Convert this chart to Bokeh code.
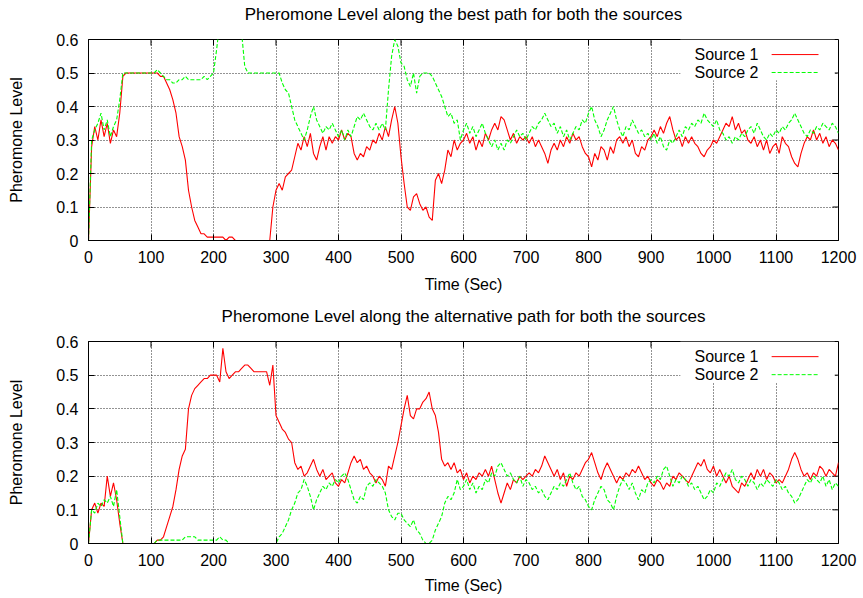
from bokeh.plotting import figure
from bokeh.layouts import column
from bokeh.models import FixedTicker, Label, Arrow, BoxAnnotation, Range1d, LinearAxis
from bokeh.embed import file_html
from bokeh.resources import INLINE

# ---------------- data ----------------
time_sec = list(range(0, 1201, 5))

best_src1 = [
    0.00, 0.28, 0.34, 0.30, 0.36, 0.31, 0.35, 0.29, 0.33, 0.31, 0.38, 0.49, 0.50, 0.50, 0.50, 0.50, 0.50, 0.50, 0.50, 0.50,
    0.50, 0.50, 0.50, 0.49, 0.49, 0.47, 0.45, 0.42, 0.38, 0.31, 0.28, 0.24, 0.15, 0.10, 0.06, 0.04, 0.02, 0.02, 0.01, 0.01,
    0.01, 0.01, 0.01, 0.01, 0.00, 0.01, 0.01, 0.00, 0.00, 0.00, 0.00, 0.00, 0.00, 0.00, 0.00, 0.00, 0.00, 0.00, 0.00, 0.10,
    0.15, 0.17, 0.15, 0.19, 0.20, 0.21, 0.25, 0.29, 0.27, 0.31, 0.28, 0.32, 0.26, 0.24, 0.28, 0.31, 0.27, 0.31, 0.29, 0.31,
    0.30, 0.33, 0.30, 0.32, 0.31, 0.26, 0.24, 0.26, 0.25, 0.28, 0.27, 0.30, 0.29, 0.32, 0.30, 0.34, 0.31, 0.36, 0.40, 0.35,
    0.25, 0.17, 0.10, 0.09, 0.13, 0.14, 0.11, 0.09, 0.10, 0.07, 0.06, 0.18, 0.20, 0.17, 0.21, 0.27, 0.25, 0.30, 0.27, 0.29,
    0.30, 0.32, 0.29, 0.31, 0.27, 0.30, 0.28, 0.32, 0.30, 0.33, 0.35, 0.33, 0.37, 0.36, 0.33, 0.30, 0.32, 0.29, 0.31, 0.30,
    0.31, 0.29, 0.31, 0.28, 0.30, 0.28, 0.26, 0.23, 0.27, 0.29, 0.27, 0.30, 0.28, 0.31, 0.29, 0.32, 0.30, 0.31, 0.28, 0.26,
    0.25, 0.22, 0.26, 0.24, 0.28, 0.27, 0.24, 0.28, 0.26, 0.30, 0.31, 0.29, 0.31, 0.28, 0.30, 0.26, 0.25, 0.28, 0.27, 0.30,
    0.31, 0.33, 0.31, 0.34, 0.32, 0.35, 0.37, 0.33, 0.30, 0.31, 0.28, 0.31, 0.29, 0.31, 0.29, 0.28, 0.26, 0.25, 0.27, 0.28,
    0.30, 0.29, 0.31, 0.33, 0.35, 0.34, 0.37, 0.33, 0.35, 0.32, 0.33, 0.30, 0.29, 0.31, 0.28, 0.30, 0.27, 0.30, 0.26, 0.28,
    0.29, 0.26, 0.31, 0.29, 0.28, 0.25, 0.23, 0.22, 0.26, 0.29, 0.31, 0.30, 0.33, 0.30, 0.32, 0.29, 0.31, 0.28, 0.30, 0.29,
    0.27,
]

best_src2 = [
    0.00, 0.30, 0.33, 0.35, 0.38, 0.33, 0.36, 0.31, 0.34, 0.36, 0.42, 0.50, 0.50, 0.50, 0.50, 0.50, 0.50, 0.50, 0.50, 0.50,
    0.50, 0.50, 0.51, 0.50, 0.49, 0.48, 0.48, 0.47, 0.47, 0.48, 0.48, 0.49, 0.48, 0.48, 0.48, 0.48, 0.48, 0.49, 0.48, 0.49,
    0.50, 0.57, 0.65, 0.65, 0.65, 0.65, 0.65, 0.65, 0.65, 0.62, 0.52, 0.50, 0.50, 0.50, 0.50, 0.50, 0.50, 0.50, 0.50, 0.50,
    0.50, 0.50, 0.47, 0.45, 0.44, 0.40, 0.36, 0.34, 0.32, 0.30, 0.33, 0.37, 0.40, 0.36, 0.34, 0.32, 0.34, 0.33, 0.35, 0.33,
    0.31, 0.33, 0.30, 0.33, 0.31, 0.34, 0.37, 0.36, 0.38, 0.36, 0.34, 0.33, 0.35, 0.33, 0.35, 0.33, 0.45, 0.55, 0.60, 0.58,
    0.53, 0.52, 0.48, 0.46, 0.50, 0.44, 0.49, 0.50, 0.50, 0.50, 0.49, 0.47, 0.45, 0.43, 0.40, 0.37, 0.38, 0.35, 0.36, 0.30,
    0.33, 0.35, 0.32, 0.34, 0.31, 0.33, 0.35, 0.32, 0.30, 0.28, 0.30, 0.27, 0.29, 0.27, 0.30, 0.29, 0.31, 0.33, 0.31, 0.32,
    0.30, 0.32, 0.34, 0.33, 0.35, 0.36, 0.38, 0.36, 0.34, 0.35, 0.32, 0.34, 0.31, 0.33, 0.30, 0.32, 0.34, 0.33, 0.36, 0.35,
    0.38, 0.40, 0.36, 0.34, 0.31, 0.33, 0.36, 0.38, 0.40, 0.36, 0.33, 0.31, 0.34, 0.33, 0.36, 0.34, 0.32, 0.33, 0.31, 0.32,
    0.30, 0.32, 0.29, 0.31, 0.28, 0.27, 0.30, 0.29, 0.31, 0.33, 0.31, 0.34, 0.33, 0.35, 0.34, 0.36, 0.35, 0.38, 0.36, 0.35,
    0.34, 0.36, 0.33, 0.32, 0.30, 0.31, 0.29, 0.31, 0.30, 0.32, 0.31, 0.33, 0.34, 0.32, 0.35, 0.33, 0.31, 0.30, 0.32, 0.31,
    0.33, 0.32, 0.34, 0.33, 0.35, 0.36, 0.38, 0.36, 0.34, 0.32, 0.31, 0.33, 0.32, 0.34, 0.33, 0.35, 0.34, 0.33, 0.35, 0.34,
    0.32,
]

alt_src1 = [
    0.00, 0.10, 0.12, 0.09, 0.12, 0.11, 0.20, 0.14, 0.18, 0.13, 0.06, 0.00, 0.00, 0.00, 0.00, 0.00, 0.00, 0.00, 0.00, 0.00,
    0.00, 0.00, 0.01, 0.01, 0.02, 0.05, 0.08, 0.11, 0.16, 0.22, 0.26, 0.28, 0.40, 0.44, 0.46, 0.47, 0.48, 0.49, 0.49, 0.50,
    0.50, 0.50, 0.48, 0.58, 0.51, 0.49, 0.50, 0.51, 0.51, 0.52, 0.53, 0.53, 0.52, 0.51, 0.51, 0.51, 0.51, 0.51, 0.47, 0.53,
    0.38, 0.36, 0.34, 0.33, 0.31, 0.30, 0.24, 0.22, 0.23, 0.20, 0.21, 0.23, 0.25, 0.22, 0.20, 0.22, 0.19, 0.20, 0.21, 0.18,
    0.17, 0.19, 0.18, 0.21, 0.24, 0.26, 0.24, 0.25, 0.22, 0.23, 0.21, 0.20, 0.18, 0.20, 0.19, 0.17, 0.23, 0.22, 0.26, 0.30,
    0.35, 0.40, 0.44, 0.38, 0.37, 0.40, 0.40, 0.42, 0.43, 0.45, 0.40, 0.38, 0.33, 0.25, 0.23, 0.24, 0.22, 0.24, 0.21, 0.22,
    0.19, 0.21, 0.18, 0.20, 0.19, 0.21, 0.20, 0.22, 0.20, 0.23, 0.19, 0.15, 0.12, 0.15, 0.18, 0.16, 0.19, 0.18, 0.20, 0.19,
    0.20, 0.21, 0.20, 0.22, 0.21, 0.23, 0.26, 0.24, 0.22, 0.20, 0.22, 0.19, 0.21, 0.17, 0.20, 0.19, 0.21, 0.20, 0.22, 0.24,
    0.25, 0.27, 0.24, 0.21, 0.19, 0.22, 0.24, 0.22, 0.20, 0.18, 0.20, 0.19, 0.21, 0.20, 0.22, 0.21, 0.23, 0.21, 0.19, 0.20,
    0.18, 0.17, 0.19, 0.18, 0.16, 0.18, 0.17, 0.20, 0.19, 0.21, 0.20, 0.19, 0.18, 0.20, 0.22, 0.24, 0.23, 0.25, 0.22, 0.21,
    0.23, 0.20, 0.22, 0.20, 0.18, 0.20, 0.17, 0.16, 0.15, 0.18, 0.17, 0.19, 0.21, 0.19, 0.22, 0.20, 0.22, 0.19, 0.21, 0.20,
    0.18, 0.19, 0.18, 0.20, 0.22, 0.25, 0.27, 0.25, 0.22, 0.20, 0.21, 0.19, 0.21, 0.20, 0.23, 0.22, 0.20, 0.22, 0.21, 0.20,
    0.24,
]

alt_src2 = [
    0.00, 0.10, 0.09, 0.12, 0.11, 0.13, 0.12, 0.14, 0.11, 0.16, 0.08, 0.00, 0.00, 0.00, 0.00, 0.00, 0.00, 0.00, 0.00, 0.00,
    0.00, 0.00, 0.01, 0.01, 0.01, 0.01, 0.01, 0.01, 0.01, 0.01, 0.01, 0.02, 0.02, 0.02, 0.02, 0.01, 0.01, 0.01, 0.01, 0.01,
    0.01, 0.01, 0.02, 0.01, 0.01, 0.00, 0.00, 0.00, 0.00, 0.00, 0.00, 0.00, 0.00, 0.00, 0.00, 0.00, 0.00, 0.00, 0.00, 0.00,
    0.00, 0.02, 0.03, 0.05, 0.07, 0.10, 0.12, 0.15, 0.16, 0.19, 0.17, 0.14, 0.10, 0.13, 0.15, 0.17, 0.16, 0.18, 0.17, 0.19,
    0.18, 0.20, 0.21, 0.19, 0.16, 0.13, 0.12, 0.14, 0.13, 0.17, 0.18, 0.17, 0.19, 0.18, 0.17, 0.15, 0.10, 0.08, 0.07, 0.09,
    0.09, 0.07, 0.06, 0.05, 0.07, 0.04, 0.03, 0.01, 0.00, 0.00, 0.01, 0.04, 0.06, 0.08, 0.12, 0.14, 0.13, 0.15, 0.19, 0.16,
    0.17, 0.19, 0.16, 0.18, 0.15, 0.17, 0.16, 0.19, 0.18, 0.21, 0.20, 0.23, 0.24, 0.22, 0.20, 0.21, 0.19, 0.18, 0.20, 0.17,
    0.19, 0.18, 0.16, 0.17, 0.15, 0.16, 0.14, 0.13, 0.15, 0.17, 0.16, 0.18, 0.17, 0.19, 0.21, 0.18, 0.16, 0.17, 0.14, 0.13,
    0.11, 0.10, 0.13, 0.15, 0.17, 0.16, 0.13, 0.12, 0.10, 0.14, 0.17, 0.19, 0.18, 0.16, 0.18, 0.15, 0.13, 0.16, 0.15, 0.18,
    0.19, 0.18, 0.20, 0.19, 0.22, 0.23, 0.20, 0.17, 0.19, 0.18, 0.20, 0.19, 0.17, 0.18, 0.16, 0.17, 0.15, 0.13, 0.14, 0.16,
    0.15, 0.18, 0.17, 0.19, 0.21, 0.20, 0.22, 0.19, 0.18, 0.20, 0.19, 0.17, 0.19, 0.18, 0.16, 0.18, 0.17, 0.19, 0.18, 0.17,
    0.19, 0.18, 0.16, 0.17, 0.15, 0.14, 0.12, 0.13, 0.15, 0.17, 0.19, 0.18, 0.20, 0.19, 0.18, 0.20, 0.17, 0.19, 0.16, 0.18,
    0.17,
]

x_ticks = [0, 100, 200, 300, 400, 500, 600, 700, 800, 900, 1000, 1100, 1200]
y_ticks = [0, 0.1, 0.2, 0.3, 0.4, 0.5, 0.6]
y_tick_labels = ["0", "0.1", "0.2", "0.3", "0.4", "0.5", "0.6"]
panel_titles = [
    "Pheromone Level along the best path for both the sources",
    "Pheromone Level along the alternative path for both the sources",
]
series_names = ["Source 1", "Source 2"]
x_label = "Time (Sec)"
y_label = "Pheromone Level"

FONT = "Liberation Sans"
FS = "16px"
RED = "#ff0000"
GREEN = "#00ff00"
X_MIN, X_MAX, Y_MIN, Y_MAX = 0, 1200, 0, 0.6


def make_panel(title, s1, s2, border_top, border_bottom, frame_h, xlabel_standoff):
    p = figure(width=863, height=299, output_backend="svg", toolbar_location=None,
               x_range=Range1d(X_MIN, X_MAX), y_range=Range1d(Y_MIN, Y_MAX),
               min_border_left=88, min_border_right=25,
               min_border_top=border_top, min_border_bottom=border_bottom,
               background_fill_color="white", border_fill_color="white")

    xt = FixedTicker(ticks=x_ticks)
    yt = FixedTicker(ticks=y_ticks)
    p.xaxis.ticker = xt
    p.yaxis.ticker = yt
    p.xgrid.ticker = xt
    p.ygrid.ticker = yt
    p.yaxis.major_label_overrides = dict(zip(y_ticks, y_tick_labels))

    for ax in (p.xaxis, p.yaxis):
        ax.major_label_text_font = FONT
        ax.major_label_text_font_size = FS
        ax.major_label_text_color = "black"
        ax.axis_label_text_font = FONT
        ax.axis_label_text_font_size = FS
        ax.axis_label_text_font_style = "normal"
        ax.axis_label_text_color = "black"
        ax.axis_line_color = "black"
        ax.major_tick_line_color = "black"
        ax.major_tick_in = 6
        ax.major_tick_out = 0
        ax.minor_tick_line_color = None
    p.xaxis.axis_label = x_label
    p.yaxis.axis_label = y_label
    p.xaxis.major_label_standoff = 10
    p.xaxis.axis_label_standoff = xlabel_standoff
    p.yaxis.major_label_standoff = 10
    p.yaxis.axis_label_standoff = 28

    # panel title: carried by a tick-less axis above the frame, so it sits ~16 px above it
    title_axis = LinearAxis(ticker=FixedTicker(ticks=[]), axis_label=title,
                            axis_label_text_font=FONT, axis_label_text_font_size="17px",
                            axis_label_text_font_style="normal", axis_label_text_color="black",
                            axis_label_standoff=16, major_label_standoff=0,
                            major_tick_in=0, major_tick_out=0,
                            axis_line_color=None, major_tick_line_color=None,
                            minor_tick_line_color=None)
    p.add_layout(title_axis, "above")

    for g in (p.xgrid, p.ygrid):
        g.grid_line_color = "black"
        g.grid_line_dash = "1 2"
        g.grid_line_alpha = 0.85
        g.grid_line_width = 1

    p.outline_line_color = "black"
    p.outline_line_width = 1
    p.outline_line_alpha = 1

    # mirrored inward ticks on the top and right edges (gnuplot style), from the tick lists
    tick_dy = (Y_MAX - Y_MIN) * 6 / frame_h
    tick_dx = (X_MAX - X_MIN) * 6 / 750
    p.segment(x0=x_ticks, y0=[Y_MAX] * len(x_ticks), x1=x_ticks, y1=[Y_MAX - tick_dy] * len(x_ticks),
              line_color="black", line_width=1)
    p.segment(x0=[X_MAX] * len(y_ticks), y0=y_ticks, x1=[X_MAX - tick_dx] * len(y_ticks), y1=y_ticks,
              line_color="black", line_width=1)

    p.line(time_sec, s1, line_color=RED, line_width=1.1)
    p.line(time_sec, s2, line_color=GREEN, line_width=1.1, line_dash="4 2")

    # key (gnuplot style: text, then sample line), white background
    p.add_layout(BoxAnnotation(left=947, right=1194, bottom=0.478, top=0.6,
                               fill_color="white", fill_alpha=1, line_alpha=0))
    key_y = [0.555, 0.5015]
    colors = [RED, GREEN]
    dashes = ["solid", "4 2"]
    for name, ky, c, d in zip(series_names, key_y, colors, dashes):
        p.add_layout(Label(x=1072, y=ky, text=name, text_align="right", text_baseline="middle",
                           text_font=FONT, text_font_size=FS, text_color="black"))
        p.add_layout(Arrow(end=None, x_start=1093, y_start=ky, x_end=1168, y_end=ky,
                           line_color=c, line_width=1, line_dash=d))
    return p


p1 = make_panel(panel_titles[0], best_src1, best_src2, 39, 59, 201, 10)
p2 = make_panel(panel_titles[1], alt_src1, alt_src2, 42, 55, 202, 8)

layout = column(p1, p2, spacing=0)
open("out.html", "w").write(file_html(layout, INLINE))
